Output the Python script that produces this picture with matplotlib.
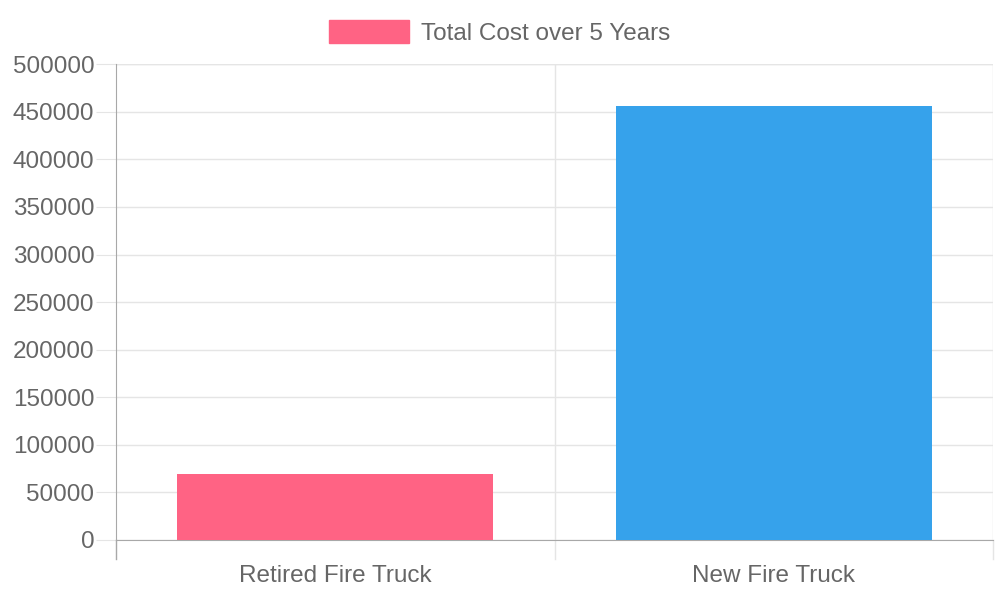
import matplotlib.pyplot as plt
from matplotlib.patches import Rectangle

# data
categories = ["Retired Fire Truck", "New Fire Truck"]
costs = [69000, 456000]
bar_colors = ["#ff6384", "#36a2eb"]
series_label = "Total Cost over 5 Years"
y_ticks = list(range(0, 500001, 50000))

plt.rcParams['font.family'] = ['Liberation Sans', 'DejaVu Sans']
text_col = "#666666"
grid_col = "#e5e5e5"
axis_col = "#a8a8a8"

fig = plt.figure(figsize=(10, 6), dpi=100)
ax = fig.add_axes([0.116, 0.1, 0.877, 0.793])

x = range(len(categories))
ax.bar(x, costs, width=0.72, color=bar_colors, zorder=3)

ax.set_xlim(-0.5, len(categories) - 0.5)
ax.set_ylim(0, 500000)
ax.set_yticks(y_ticks)
ax.set_yticklabels([str(v) for v in y_ticks])
ax.set_xticks(list(x))
ax.set_xticklabels(categories)

# grid lines: horizontal at ticks, vertical at category boundaries
ax.grid(axis="y", color=grid_col, linewidth=1, zorder=0)
ax.axvline(0.5, color=grid_col, linewidth=1, zorder=0)
ax.axvline(len(categories) - 0.5, color=grid_col, linewidth=1, zorder=0)
ax.axhline(500000, color=grid_col, linewidth=1, zorder=0)

for s in ["top", "right"]:
    ax.spines[s].set_visible(False)
ax.spines["left"].set_color(axis_col)
ax.spines["bottom"].set_color(axis_col)

ax.tick_params(axis="y", length=14.5, color=grid_col, labelsize=17.5, labelcolor=text_col, pad=1)
ax.tick_params(axis="x", length=0, labelsize=17.5, labelcolor=text_col, pad=18)

# small boundary tick marks below the x axis
for b in [-0.5, 0.5, 1.5]:
    ax.plot([b, b], [0, -0.04], transform=ax.get_xaxis_transform(),
            color=grid_col if b != -0.5 else axis_col, linewidth=1, clip_on=False)

# legend
fig.patches.append(Rectangle((0.329, 1 - 0.072), 0.080, 0.038, transform=fig.transFigure,
                             color=bar_colors[0]))
fig.text(0.421, 1 - 0.056, series_label, fontsize=17.5, color=text_col, va="center")

fig.savefig("out.png", dpi=100)
